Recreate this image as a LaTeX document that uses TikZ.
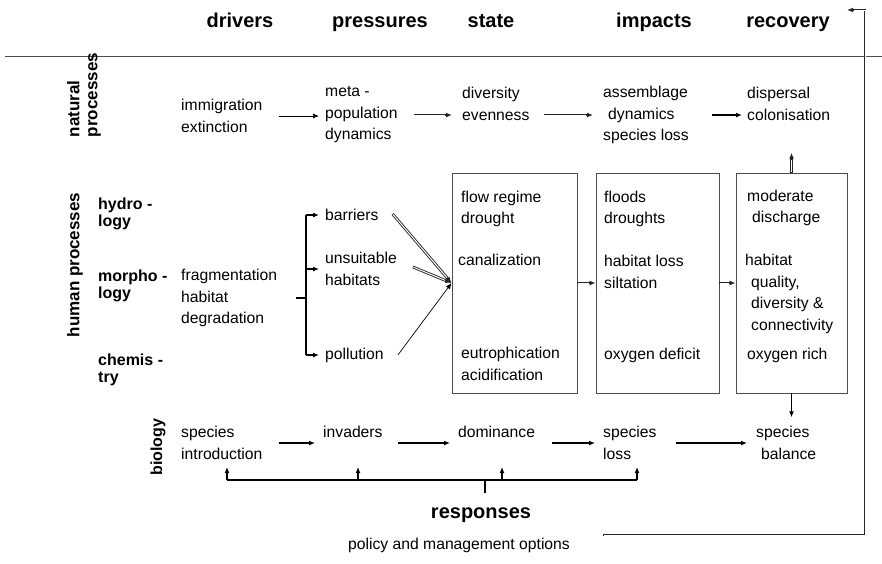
\documentclass[tikz,border=0pt]{standalone}
\usepackage{fontspec}
\setmainfont{Liberation Sans}
\usepackage{tikz}
\usetikzlibrary{arrows.meta, positioning, calc}
\definecolor{linegray}{gray}{0.3}

\begin{document}
\begin{tikzpicture}[x=1pt, y=-1pt,
    >={Latex[length=6pt,width=5pt]},
    txt/.style={anchor=west, align=left, inner sep=0pt, font=\fontsize{15.7}{21.5}\selectfont},
    head/.style={anchor=base, inner sep=0pt, font=\bfseries\fontsize{20}{24}\selectfont},
    side/.style={anchor=west, align=left, inner sep=0pt, font=\bfseries\fontsize{16}{17}\selectfont},
    proc/.style={rotate=90, align=left, inner sep=0pt, font=\bfseries\fontsize{17}{18}\selectfont},
    box/.style={draw=linegray, line width=0.9pt, inner sep=0pt, minimum width=#1, minimum height=220pt},
    flow/.style={->, line width=1.3pt},
    flowthin/.style={->, line width=0.7pt},
    dflow/.style={->, draw=black!85, line width=2.8pt,
      postaction={draw=white, line width=1pt, -, shorten >=7pt, shorten <=0.6pt}},
    brk/.style={line width=1.8pt}]
  \useasboundingbox (0,0) rectangle (882,563);

  % column heads
  \node[head] (drv) at (240,27) {drivers};
  \node[head] (prs) at (380,27) {pressures};
  \node[head] (sta) at (491,27) {state};
  \node[head] (imp) at (654,27) {impacts};
  \node[head] (rec) at (788,27) {recovery};
  \draw[linegray, line width=0.8pt] (5,56) -- (882,56);

  % row labels
  \node[proc] (nat) at (84,95) {natural\\processes};
  \node[proc] (hum) at (75,265) {human processes};
  \node[proc, font=\bfseries\fontsize{16}{17}\selectfont] (bio) at (158,447) {biology};
  \node[side] (hyd) at (98,214) {hydro -\\logy};
  \node[side] (mor) at (98,286) {morpho -\\logy};
  \node[side] (che) at (98,370) {chemis -\\try};

  % natural processes
  \node[txt] (imm) at (181,116) {immigration\\extinction};
  \node[txt] (meta) at (325,115) {meta -\\population\\dynamics};
  \node[txt] (div) at (462,104) {diversity\\evenness};
  \node[txt] (ass) at (603,115) {assemblage\\\hspace*{5pt}dynamics\\species loss};
  \node[txt] (disp) at (747,104) {dispersal\\colonisation};

  \draw[flowthin, shorten <=16pt, shorten >=6pt] (imm.east) -- (imm.east -| meta.west);
  \draw[dflow] ($(meta.east)+(16,0)$) -- ($(div.west |- meta.west)+(-10,0)$);
  \draw[dflow] ($(div.east |- meta.west)+(14,0)$) -- ($(ass.west)+(-10,0)$);
  \draw[flow, shorten <=23pt, shorten >=5pt] (ass.east) -- (ass.east -| disp.west);

  % human processes
  \node[txt] (frag) at (181,298) {fragmentation\\habitat\\degradation};
  \node[txt] (barr) at (325,215) {barriers};
  \node[txt] (uns) at (325,269) {unsuitable\\habitats};
  \node[txt] (pol) at (325,355) {pollution};

  \node[box=125pt] (b1) at (514.5,283) {};
  \node[box=123pt] (b2) at (657.5,283) {};
  \node[box=111pt] (b3) at (791.5,283) {};

  \node[txt] (flow) at (461,209) {flow regime\\drought};
  \node[txt] (can) at (458,260) {canalization};
  \node[txt] (eut) at (461,364) {eutrophication\\acidification};
  \node[txt] (fld) at (604,209) {floods\\droughts};
  \node[txt] (hls) at (604,272) {habitat loss\\siltation};
  \node[txt] (oxd) at (604,355) {oxygen deficit};
  \node[txt] (mod) at (747,208) {moderate\\\hspace*{5pt}discharge};
  \node[txt] (hab) at (745,294) {habitat\\\hspace*{6pt}quality,\\\hspace*{6pt}diversity \&\\\hspace*{6pt}connectivity};
  \node[txt] (oxr) at (747,355) {oxygen rich};

  % bracket from drivers to pressures
  \coordinate (spine) at (306,298);
  \draw[brk] ($(frag.east)+(19,0)$) -- (spine);
  \draw[brk] (spine |- barr.west) -- (spine |- pol.west);
  \foreach \n in {barr, uns, pol}
    \draw[brk, ->, shorten >=6pt] (spine |- \n.west) -- (\n.west);

  % pressures into state
  \draw[dflow] ($(barr.east)+(14,-1)$) -- (b1.west);
  \draw[dflow] ($(uns.east)+(16,-2)$) -- (b1.west);
  \draw[flowthin] ($(pol.east)+(14,0)$) -- (b1.west);

  \draw[dflow] (b1) -- (b2);
  \draw[dflow] (b2) -- (b3);
  \draw[dflow] (b3.north) -- ($(b3.north |- disp.south)+(0,32)$);

  % biology
  \node[txt] (intro) at (181,443) {species\\introduction};
  \node[txt] (inv) at (323,432) {invaders};
  \node[txt] (dom) at (458,432) {dominance};
  \node[txt] (sls) at (603,443) {species\\loss};
  \node[txt] (sbal) at (756,443) {species\\\hspace*{5pt}balance};

  \draw[flow, shorten <=16pt, shorten >=8pt] (intro.east) -- (intro.east -| inv.west);
  \draw[flow, shorten <=15pt, shorten >=8pt] (inv.east |- intro.east) -- (dom.west |- intro.east);
  \draw[flow, shorten <=17pt, shorten >=8pt] (dom.east |- intro.east) -- (sls.west);
  \draw[flow, shorten <=19pt, shorten >=9pt] (sls.east) -- (sbal.west);
  \draw[flow, shorten >=9pt] (b3.south) -- (b3.south |- sbal.north);

  % responses
  \node[head] (resp) at (481,518) {responses};
  \node[txt, anchor=center] (opts) at (459,545) {policy and management options};

  \coordinate (rbar) at (485,480);
  \foreach \x [count=\i] in {227,358,502,637}
    \coordinate (r\i) at (\x,480);
  \draw[brk] (r1) -- (r4);
  \draw[brk] (rbar) -- ++(0,13);
  \foreach \i in {1,...,4}
    \draw[brk, ->] (r\i) -- ++(0,-13);

  % feedback loop
  \coordinate (fbA) at (603,535);
  \coordinate (fbB) at (865,535);
  \coordinate (fbC) at (865,10);
  \coordinate (fbD) at (847,10);
  \draw[dflow, ->] (fbA) -- (fbB) -- (fbC) -- (fbD);
\end{tikzpicture}
\end{document}
